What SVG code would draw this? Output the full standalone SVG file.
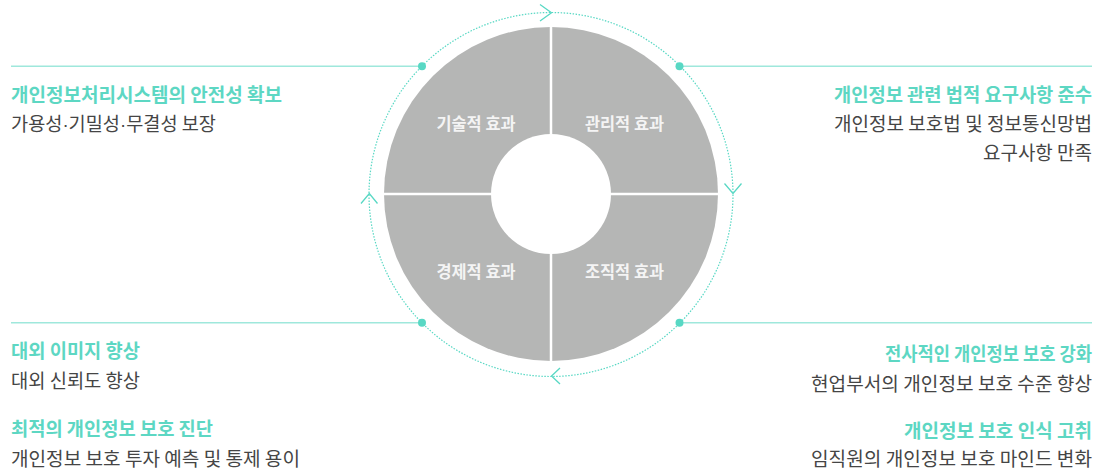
<svg xmlns="http://www.w3.org/2000/svg" width="1110" height="475" viewBox="0 0 1110 475">
<style>
text{font-family:"Noto Sans CJK KR","Noto Sans",sans-serif;}
.t{font-size:19px;font-weight:700;fill:#5dd7c3;}
.d{font-size:19px;font-weight:400;fill:#454545;}
.c{font-size:16.5px;font-weight:700;fill:#f4f4f4;text-anchor:middle;}
.ln{stroke:#9fe8dc;stroke-width:1.5;fill:none;}
.dot{fill:#58d8c4;}
.arw{stroke:#58d8c4;stroke-width:1.3;fill:none;}
.r{text-anchor:end;}
.md{font-family:"Liberation Sans",sans-serif;}
</style>
<rect width="1110" height="475" fill="#ffffff"/>
<g id="wheel">
<circle cx="551" cy="194" r="167" fill="#b5b6b5"/>
<line x1="551" y1="25" x2="551" y2="363" stroke="#ffffff" stroke-width="2.5"/>
<line x1="382" y1="194" x2="720" y2="194" stroke="#ffffff" stroke-width="2.5"/>
<circle cx="551" cy="194" r="60" fill="#ffffff"/>
</g>
<g id="q1"><text class="c" x="476" y="130" textLength="79" lengthAdjust="spacingAndGlyphs">기술적 효과</text></g>
<g id="q2"><text class="c" x="624.5" y="130" textLength="79" lengthAdjust="spacingAndGlyphs">관리적 효과</text></g>
<g id="q3"><text class="c" x="476" y="278" textLength="79" lengthAdjust="spacingAndGlyphs">경제적 효과</text></g>
<g id="q4"><text class="c" x="624.5" y="278" textLength="79" lengthAdjust="spacingAndGlyphs">조직적 효과</text></g>
<g id="connectors">
<circle cx="551" cy="194.5" r="182" fill="none" stroke="#58d8c4" stroke-width="1.2" stroke-dasharray="1.5 1.5"/>
<polyline class="arw" points="540,4.5 551.5,12.7 540,21"/>
<polyline class="arw" points="724.5,183.5 733,193.5 741.5,183.5"/>
<polyline class="arw" points="560,368 551.5,376 560,384"/>
<polyline class="arw" points="361,203.5 369.3,193.5 377.5,203.5"/>
<line class="ln" x1="11" y1="66.3" x2="421" y2="66.3"/>
<line class="ln" x1="680" y1="66.3" x2="1092" y2="66.3"/>
<line class="ln" x1="11" y1="322.7" x2="421" y2="322.7"/>
<line class="ln" x1="680" y1="322.7" x2="1092" y2="322.7"/>
<circle class="dot" cx="422" cy="66.3" r="4"/>
<circle class="dot" cx="679.5" cy="66.3" r="4"/>
<circle class="dot" cx="422" cy="322.7" r="4"/>
<circle class="dot" cx="679.5" cy="322.7" r="4"/>
</g>
<g id="tl">
<text class="t" x="11" y="102" textLength="271" lengthAdjust="spacingAndGlyphs">개인정보처리시스템의 안전성 확보</text>
<text class="d" x="11" y="131" textLength="205" lengthAdjust="spacingAndGlyphs">가용성<tspan class="md">·</tspan>기밀성<tspan class="md">·</tspan>무결성 보장</text>
</g>
<g id="tr">
<text class="t r" x="1092" y="102" textLength="258" lengthAdjust="spacingAndGlyphs">개인정보 관련 법적 요구사항 준수</text>
<text class="d r" x="1092" y="131" textLength="258" lengthAdjust="spacingAndGlyphs">개인정보 보호법 및 정보통신망법</text>
<text class="d r" x="1092" y="160" textLength="109" lengthAdjust="spacingAndGlyphs">요구사항 만족</text>
</g>
<g id="bl">
<text class="t" x="11" y="358" textLength="129" lengthAdjust="spacingAndGlyphs">대외 이미지 향상</text>
<text class="d" x="11" y="388" textLength="129" lengthAdjust="spacingAndGlyphs">대외 신뢰도 향상</text>
<text class="t" x="11" y="436" textLength="202" lengthAdjust="spacingAndGlyphs">최적의 개인정보 보호 진단</text>
<text class="d" x="11" y="466" textLength="289" lengthAdjust="spacingAndGlyphs">개인정보 보호 투자 예측 및 통제 용이</text>
</g>
<g id="br">
<text class="t r" x="1092" y="361" textLength="207" lengthAdjust="spacingAndGlyphs">전사적인 개인정보 보호 강화</text>
<text class="d r" x="1092" y="391" textLength="281" lengthAdjust="spacingAndGlyphs">현업부서의 개인정보 보호 수준 향상</text>
<text class="t r" x="1092" y="438" textLength="188" lengthAdjust="spacingAndGlyphs">개인정보 보호 인식 고취</text>
<text class="d r" x="1092" y="466" textLength="281" lengthAdjust="spacingAndGlyphs">임직원의 개인정보 보호 마인드 변화</text>
</g>
</svg>
